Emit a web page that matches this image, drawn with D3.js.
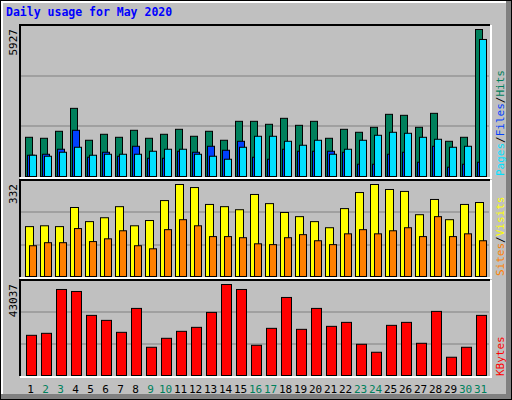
<!DOCTYPE html>
<html><head><meta charset="utf-8">
<script src="https://cdn.jsdelivr.net/npm/d3@7"></script>
<style>body{margin:0;background:#fff}</style></head>
<body><svg id="c" width="512" height="400"></svg>
<script>
const days = d3.range(1,32);
const weekend = [2,3,9,10,16,17,23,24,30,31];
const hits = [1581,1541,1823,2748,1461,1702,1581,1863,1541,1702,1903,1622,1823,1461,2225,2225,2105,2346,2064,2225,1541,1903,1783,1984,2507,2467,1984,2547,1420,1581,5927];
const files = [857,897,1099,1863,777,978,817,1219,736,736,1018,978,1219,1058,1420,777,696,1099,1018,1018,1018,978,495,495,897,978,575,1219,374,495,575];
const pages = [857,817,978,1179,857,897,897,897,1018,1099,1099,897,817,696,1179,1622,1622,1420,1260,1461,897,1099,1461,1662,1783,1742,1581,1501,1179,1219,5525];
const visits = [180,183,180,249,198,212,252,183,202,274,332,321,260,252,241,296,263,231,216,198,176,245,303,332,314,307,223,278,205,260,267];
const sites = [111,122,122,173,126,136,165,111,100,169,205,183,144,144,140,118,115,140,151,129,115,154,169,154,165,176,144,216,144,154,129];
const kbytes = [19005,19948,40681,39739,28430,26073,20419,31728,13351,17592,20890,22775,29843,43037,40681,14293,22304,36911,21833,31728,23246,25131,14765,10995,23718,25131,15236,30314,8639,13351,28430];

const svg = d3.select("#c");
const mono = "DejaVu Sans Mono, monospace";
// background & frame
svg.append("rect").attr("x",0).attr("y",0).attr("width",512).attr("height",400).attr("fill","#000");
svg.append("rect").attr("x",1).attr("y",1).attr("width",510).attr("height",398).attr("fill","#808080");
svg.append("rect").attr("x",1).attr("y",1).attr("width",505).attr("height",393).attr("fill","#fff");
svg.append("rect").attr("x",3).attr("y",3).attr("width",503).attr("height",391).attr("fill","#c0c0c0");
svg.append("text").attr("x",6).attr("y",16).attr("font-family",mono).attr("font-weight","bold").attr("font-size",11.5).attr("fill","#0000ff").text("Daily usage for May 2020");

const x = d3.scaleBand().domain(days).range([20,485]);
function panel(y0,y1){
  svg.append("rect").attr("x",20).attr("y",y0).attr("width",470).attr("height",y1-y0).attr("fill","#c0c0c0");
  svg.append("path").attr("d",`M20,${y1}V${y0}H490`).attr("stroke","#000").attr("stroke-width",2).attr("fill","none");
  svg.append("path").attr("d",`M20,${y1+1}H491V${y0}`).attr("stroke","#fff").attr("stroke-width",2).attr("fill","none");
}
function grid(y, y0, y1){
  [1/3,2/3].forEach(f=>{const yy=Math.round(y1-(y1-y0)*f);
    svg.append("line").attr("x1",21).attr("x2",489).attr("y1",yy).attr("y2",yy).attr("stroke","#808080");});
}
function bars(data,y,off,w,color){
  svg.append("g").selectAll("rect").data(data).join("rect")
    .attr("x",(d,i)=>x(days[i])+off+0.5).attr("width",w).attr("y",d=>y(d)+0.5).attr("height",d=>y(0)-y(d))
    .attr("fill",color).attr("stroke","#000").attr("stroke-width",1);
}
function vlabel(txt,xx,yy,col,anchor){
  svg.append("text").attr("transform",`translate(${xx},${yy}) rotate(-90)`).attr("text-anchor",anchor||"end")
   .attr("font-family",mono).attr("font-size",11).attr("fill",col).text(txt);
}
// top panel
panel(25,177);
const y1 = d3.scaleLinear().domain([0,d3.max(hits)]).range([176,29]);
grid(y1,25,177);
bars(hits,y1,5,7,"#00805c");
bars(files,y1,7,7,"#0040ff");
bars(pages,y1,9,7,"#00e0ff");
vlabel("5927",17,29,"#000");
const lab1 = svg.append("text").attr("transform","translate(504,176) rotate(-90)").attr("font-family",mono).attr("font-size",11);
lab1.append("tspan").attr("fill","#00e0ff").text("Pages");
lab1.append("tspan").attr("fill","#000").text("/");
lab1.append("tspan").attr("fill","#0040ff").text("Files");
lab1.append("tspan").attr("fill","#000").text("/");
lab1.append("tspan").attr("fill","#00805c").text("Hits");
// middle panel
panel(180,277);
const y2 = d3.scaleLinear().domain([0,d3.max(visits)]).range([276,184]);
grid(y2,180,277);
bars(visits,y2,5,8,"#ffff00");
bars(sites,y2,9,7,"#ff8000");
vlabel("332",17,184,"#000");
const lab2 = svg.append("text").attr("transform","translate(504,276) rotate(-90)").attr("font-family",mono).attr("font-size",11);
lab2.append("tspan").attr("fill","#ff8000").text("Sites");
lab2.append("tspan").attr("fill","#000").text("/");
lab2.append("tspan").attr("fill","#ffff00").text("Visits");
// bottom panel
panel(280,376);
const y3 = d3.scaleLinear().domain([0,d3.max(kbytes)]).range([375,284]);
grid(y3,280,376);
bars(kbytes,y3,6,10,"#ff0000");
vlabel("43037",17,284,"#000");
vlabel("KBytes",504,376,"#ff0000","start");
// day labels
svg.append("g").selectAll("text").data(days).join("text")
  .attr("x",d=>x(d)+x.bandwidth()/2+3).attr("y",393).attr("text-anchor","middle")
  .attr("font-family",mono).attr("font-size",11)
  .attr("fill",d=>weekend.includes(d)?"#00805c":"#000").text(d=>d);
</script></body></html>
